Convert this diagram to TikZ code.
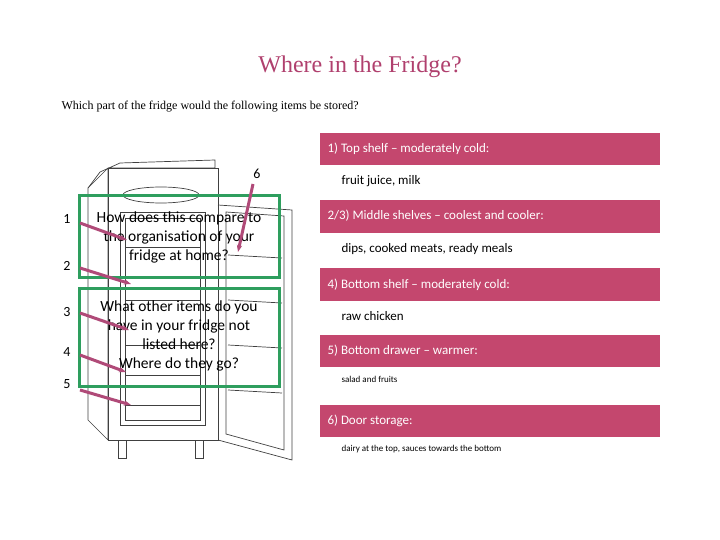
\documentclass[tikz,border=0pt]{standalone}
\usepackage{fontspec}
\usetikzlibrary{arrows.meta}
\setmainfont{Carlito}
\newfontfamily\titlefont{Liberation Serif}
\definecolor{pinkbox}{HTML}{C4476E}
\definecolor{titlepink}{HTML}{B0406E}
\definecolor{gframe}{HTML}{2E9E5E}
\definecolor{arrowc}{HTML}{B04A78}
\begin{document}
\begin{tikzpicture}[x=1pt,y=-1pt,
  band/.style={fill=pinkbox,draw=none},
  bandtxt/.style={text=white,anchor=west,font=\fontsize{13}{15}\selectfont},
  item/.style={anchor=west,font=\fontsize{13}{15}\selectfont},
  small/.style={anchor=west,font=\fontsize{9}{11}\selectfont},
  num/.style={font=\fontsize{14}{16}\selectfont},
  gbox/.style={draw=gframe,line width=3pt},
  parr/.style={draw=arrowc,line width=3pt,-{Stealth[length=7pt]}},
  fr/.style={draw=black!75,line width=0.7pt},
  q/.style={align=center,font=\fontsize{15.5}{19}\selectfont}]
\useasboundingbox (0,0) rectangle (720,540);
\node[text=titlepink,font=\titlefont\fontsize{24}{28}\selectfont] (title) at (360,67) {Where in the Fridge?};
\node[anchor=west,font=\titlefont\fontsize{12}{14}\selectfont] (sub) at (58,107) {Which part of the fridge would the following items be stored?};
% fridge
\draw[fr] (88,188) -- (88,420) -- (108,440) -- (108,168) -- cycle;
\draw[fr] (88,188) -- (100,172) -- (120,163) -- (215,160) -- (215,168) -- (108,168);
\draw[fr] (108,168) rectangle (218,440);
\draw[fr] (120,212) rectangle (205,425);
\draw[fr] (125,218) rectangle (200,420);
\foreach \y in {247,278,300,345,375,405} \draw[fr] (125,\y) -- (200,\y);
\draw[fr] (161,195) ellipse (38 and 8);
\draw[fr] (218,205) -- (292,210) -- (292,460) -- (218,440);
\draw[fr] (226,212) -- (284,216) -- (284,450) -- (226,434) -- cycle;
\foreach \y in {255,300,345,390} \draw[fr] (228,\y) -- (282,\y+3);
\draw[fr] (118,440) rectangle (126,458);
\draw[fr] (195,440) rectangle (203,458);
% green boxes
\draw[gbox] (79,196) rectangle (279,277);
\draw[gbox] (79,288) rectangle (279,386);
\node[q] (q1) at (179,237) {How does this compare to\\the organisation of your\\fridge at home?};
\node[q] (q2) at (179,336) {What other items do you\\have in your fridge not\\listed here?\\Where do they go?};
% numbers
\node[num] (n1) at (67,219) {1};
\node[num] (n2) at (67,266) {2};
\node[num] (n3) at (67,312) {3};
\node[num] (n4) at (67,352) {4};
\node[num] (n5) at (67,384) {5};
\node[num] (n6) at (257,174) {6};
\coordinate (t1) at (127,240);
\coordinate (t2) at (131,284);
\coordinate (t3) at (129,330);
\coordinate (t4) at (126,372);
\coordinate (t5) at (131,405);
\coordinate (t6) at (238,252);
\draw[parr] (80,223) -- (t1);
\draw[parr] (80,268) -- (t2);
\draw[parr] (80,313) -- (t3);
\draw[parr] (80,355) -- (t4);
\draw[parr] (80,390) -- (t5);
\draw[parr] (253,184) -- (t6);
% right panels
\fill[band] (320,133) rectangle (660,165);
\node[bandtxt] (b1) at (324,149) {1) Top shelf -- moderately cold:};
\node[item] (i1) at (338,181) {fruit juice, milk};
\fill[band] (320,200) rectangle (660,233);
\node[bandtxt] (b2) at (324,216) {2/3) Middle shelves -- coolest and cooler:};
\node[item] (i2) at (338,249) {dips, cooked meats, ready meals};
\fill[band] (320,268) rectangle (660,301);
\node[bandtxt] (b3) at (324,285) {4) Bottom shelf -- moderately cold:};
\node[item] (i3) at (338,316) {raw chicken};
\fill[band] (320,335) rectangle (660,367);
\node[bandtxt] (b4) at (324,351) {5) Bottom drawer -- warmer:};
\node[small] (i4) at (338,379) {salad and fruits};
\fill[band] (320,405) rectangle (660,437);
\node[bandtxt] (b5) at (324,421) {6) Door storage:};
\node[small] (i5) at (338,449) {dairy at the top, sauces towards the bottom};
\end{tikzpicture}
\end{document}
